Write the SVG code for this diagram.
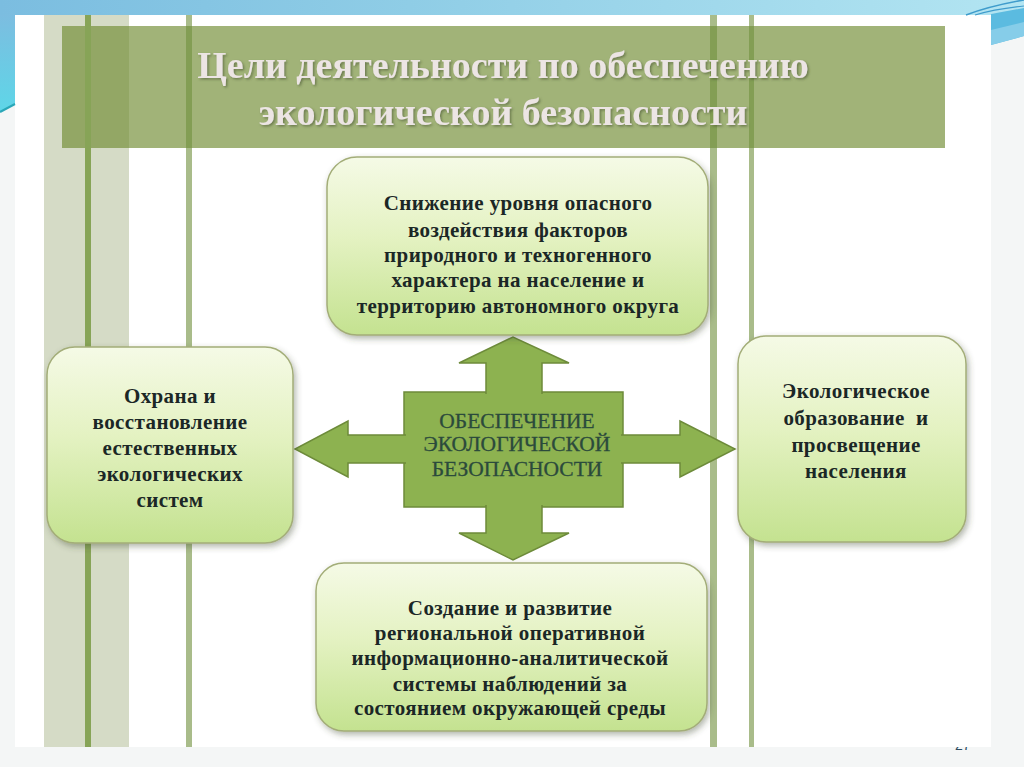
<svg xmlns="http://www.w3.org/2000/svg" width="1024" height="767" viewBox="0 0 1024 767">
<defs>
<style>
.box{stroke:#a3ad78;stroke-width:1.5;fill:url(#boxGrad);filter:url(#shadow)}
.bt{font-family:"Liberation Serif","Times New Roman",serif;font-weight:bold;font-size:21px;letter-spacing:0.4px;fill:#1b2726;text-anchor:middle}
.ct{font-family:"Liberation Serif","Times New Roman",serif;font-size:21.5px;fill:#2b4a3c;text-anchor:middle;stroke:#2b4a3c;stroke-width:0.3}
.tt{font-family:"Liberation Serif","Times New Roman",serif;font-weight:bold;font-size:38px;fill:#ece5e4;text-anchor:middle;filter:url(#tshadow)}
.arr{fill:#8db250;stroke:#6d8b3a;stroke-width:1.5;stroke-linejoin:miter}
.vl{fill:#6f8f3c;opacity:0.6}
</style>
<linearGradient id="boxGrad" x1="0" y1="0" x2="0" y2="1">
<stop offset="0" stop-color="#f5fae6"/>
<stop offset="0.45" stop-color="#e4f2c2"/>
<stop offset="1" stop-color="#c4e290"/>
</linearGradient>
<linearGradient id="topBand" x1="0" y1="0" x2="1" y2="0">
<stop offset="0" stop-color="#7bbde0"/>
<stop offset="0.4" stop-color="#8fcde6"/>
<stop offset="1" stop-color="#b3e5f2"/>
</linearGradient>
<linearGradient id="leftBand" x1="0" y1="0" x2="0" y2="1">
<stop offset="0" stop-color="#7cbde0"/>
<stop offset="1" stop-color="#5ed6e8"/>
</linearGradient>
<filter id="shadow" x="-10%" y="-10%" width="125%" height="130%">
<feDropShadow dx="2" dy="3" stdDeviation="3" flood-color="#404a30" flood-opacity="0.4"/>
</filter>
<filter id="tshadow" x="-5%" y="-20%" width="110%" height="150%">
<feDropShadow dx="1.5" dy="1.5" stdDeviation="1" flood-color="#4a5530" flood-opacity="0.6"/>
</filter>
<clipPath id="pnClip"><rect x="940" y="747" width="40" height="4"/></clipPath>
</defs>

<!-- background & slide -->
<rect x="0" y="0" width="1024" height="767" fill="#f4f6f6"/>
<rect x="15" y="15" width="976" height="732" fill="#ffffff"/>
<!-- top decoration -->
<path d="M0,0 H1024 V12 L991,14 V15 H15 V104 L0,112 Z" fill="url(#topBand)"/>
<path d="M0,15 H15 V104 L0,112 Z" fill="url(#leftBand)"/>
<path d="M0,112 L15,104" stroke="#2aa7b8" stroke-width="2" fill="none"/>
<path d="M966,15 Q990,6 1024,0" stroke="#3f9ccc" stroke-width="1.5" fill="none"/>
<path d="M975,15 Q995,9 1024,6" stroke="#3f9ccc" stroke-width="1.2" fill="none"/>
<path d="M991,14 L1024,8 V36 L991,45 Z" fill="#5bbbe0"/>
<path d="M991,30 L1024,22 V36 L991,45 Z" fill="#86cde9"/>

<!-- vertical bars -->
<rect x="44" y="15" width="85" height="732" fill="#d5dbc6"/>
<rect x="62" y="26" width="883" height="122" fill="#a1b378"/>
<rect x="62" y="26" width="67" height="122" fill="#93a765"/>
<rect x="85" y="15" width="6" height="732" fill="#87a457"/>
<rect class="vl" x="186" y="15" width="6" height="732"/>
<rect class="vl" x="710" y="15" width="7" height="732"/>
<rect class="vl" x="749" y="15" width="5" height="732"/>

<!-- title -->
<g id="title">
<text class="tt" x="503" y="78">Цели деятельности по обеспечению</text>
<text class="tt" x="503" y="125">экологической безопасности</text>
</g>

<!-- center node -->
<g id="center">
<rect x="404" y="392" width="219" height="115" fill="#8db250" stroke="#6d8b3a" stroke-width="1.5"/>
<text class="ct" x="517" y="428">ОБЕСПЕЧЕНИЕ</text>
<text class="ct" x="517" y="451">ЭКОЛОГИЧЕСКОЙ</text>
<text class="ct" x="517" y="476">БЕЗОПАСНОСТИ</text>
</g>

<!-- connectors (arrows out of the center) -->
<g id="connectors">
<path class="arr" d="M486,394 L486,363 L459,363 L513,337 L569,363 L542,363 L542,394"/>
<path class="arr" d="M621,435 L680,435 L680,421 L735,449 L680,477 L680,463 L621,463"/>
<path class="arr" d="M542,505 L542,533 L569,533 L513,560 L459,533 L486,533 L486,505"/>
<path class="arr" d="M406,463 L348,463 L348,477 L295,449 L348,421 L348,435 L406,435"/>
</g>

<!-- top node -->
<g id="node-top">
<rect class="box" x="327" y="157" width="381" height="178" rx="30" ry="30"/>
<text class="bt" x="518" y="210">Снижение уровня опасного</text>
<text class="bt" x="518" y="237">воздействия факторов</text>
<text class="bt" x="518" y="262">природного и техногенного</text>
<text class="bt" x="518" y="287">характера на население и</text>
<text class="bt" x="518" y="313">территорию автономного округа</text>
</g>

<!-- left node -->
<g id="node-left">
<rect class="box" x="47" y="347" width="246" height="196" rx="28" ry="28"/>
<text class="bt" x="170" y="403">Охрана и</text>
<text class="bt" x="170" y="429">восстановление</text>
<text class="bt" x="170" y="455">естественных</text>
<text class="bt" x="170" y="481">экологических</text>
<text class="bt" x="170" y="507">систем</text>
</g>

<!-- right node -->
<g id="node-right">
<rect class="box" x="738" y="336" width="228" height="206" rx="28" ry="28"/>
<text class="bt" x="856" y="398">Экологическое</text>
<text class="bt" x="856" y="425" xml:space="preserve">образование  и</text>
<text class="bt" x="856" y="452">просвещение</text>
<text class="bt" x="856" y="478">населения</text>
</g>

<!-- bottom node -->
<g id="node-bottom">
<rect class="box" x="316" y="563" width="391" height="168" rx="28" ry="28"/>
<text class="bt" x="510" y="615">Создание и развитие</text>
<text class="bt" x="510" y="640">региональной оперативной</text>
<text class="bt" x="510" y="665">информационно-аналитической</text>
<text class="bt" x="510" y="691">системы наблюдений за</text>
<text class="bt" x="510" y="715">состоянием окружающей среды</text>
</g>

<!-- page number (mostly hidden) -->
<text x="955" y="750" clip-path="url(#pnClip)" font-family="Liberation Sans, Arial, sans-serif" font-size="14" fill="#2c4a60">27</text>
</svg>
